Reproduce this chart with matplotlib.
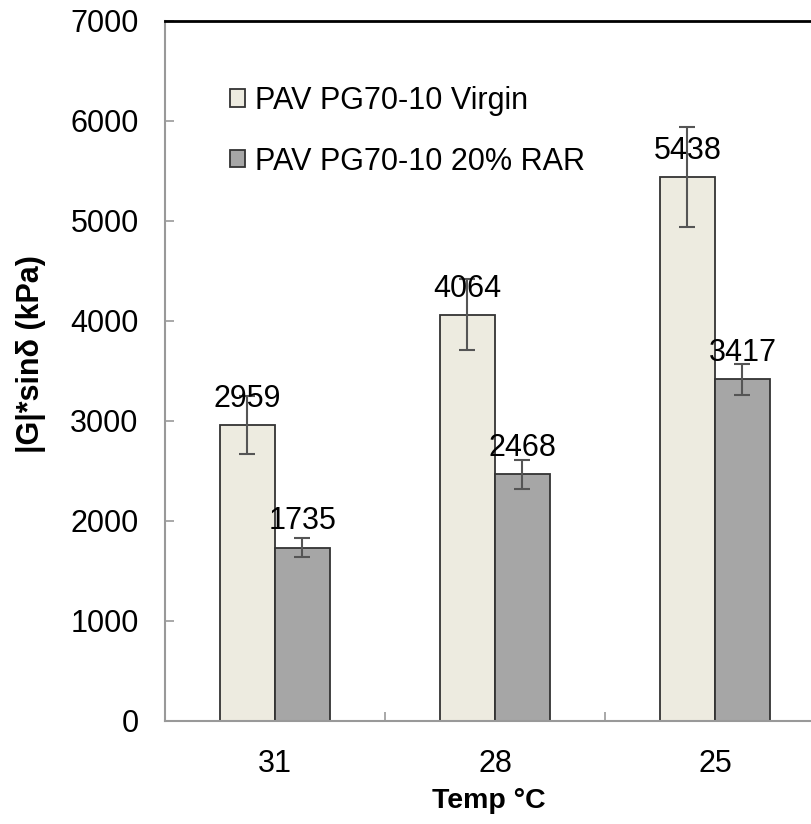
import matplotlib
matplotlib.use('Agg')
import matplotlib.pyplot as plt
import numpy as np
from matplotlib.patches import Patch

plt.rcParams['font.family'] = ['Liberation Sans', 'DejaVu Sans']

categories = ['31', '28', '25']
virgin = [2959, 4064, 5438]
rar = [1735, 2468, 3417]
virgin_err = [290, 355, 500]
rar_err = [95, 147, 155]
series_labels = ['PAV PG70-10 Virgin', 'PAV PG70-10 20% RAR']
colors = ['#EDEBE0', '#A6A6A6']

W, H = 812, 824
fig = plt.figure(figsize=(W / 100, H / 100), dpi=100)
ax = fig.add_axes([165 / W, 103 / H, 660 / W, 700 / H])

x = np.arange(len(categories))
w = 0.25
ekw = dict(ecolor='#555555', elinewidth=1.5, capsize=6, capthick=1.5)
ax.bar(x - w / 2, virgin, w, color=colors[0], edgecolor='#333333', linewidth=1.3,
       yerr=virgin_err, error_kw=ekw, zorder=2)
ax.bar(x + w / 2, rar, w, color=colors[1], edgecolor='#333333', linewidth=1.3,
       yerr=rar_err, error_kw=ekw, zorder=2)

for xs, vals in ((x - w / 2, virgin), (x + w / 2, rar)):
    for xi, v in zip(xs, vals):
        ax.annotate(str(v), xy=(xi, v), xytext=(0, 13), textcoords='offset points',
                    ha='center', va='baseline', fontsize=22, color='black', zorder=3)

ax.set_xlim(-0.5, 2.5)
ax.set_ylim(0, 7000)
ax.set_yticks(np.arange(0, 7001, 1000))
ax.set_xticks(x)
ax.set_xticklabels(categories)
ax.set_xticks([0.5, 1.5], minor=True)

ax.tick_params(axis='y', direction='in', length=6.5, width=1.2, color='#999999',
               pad=19, labelsize=22)
ax.tick_params(axis='x', which='major', length=0, pad=20, labelsize=22)
ax.tick_params(axis='x', which='minor', direction='in', length=6.5, width=1.2,
               color='#999999')

for s in ('left', 'bottom'):
    ax.spines[s].set_color('#999999')
    ax.spines[s].set_linewidth(1.5)
ax.spines['top'].set_color('black')
ax.spines['top'].set_linewidth(2)
ax.spines['right'].set_visible(False)

ax.set_ylabel('|G|*sin\u03b4 (kPa)', fontsize=22, fontweight='bold')
ax.yaxis.set_label_coords((31 - 165) / 660, (721 - 354) / 700)
ax.yaxis.label.set_va('center')
ax.set_xlabel('Temp \u00b0C', fontsize=20.5, fontweight='bold')
ax.xaxis.set_label_coords((489 - 165) / 660, (721 - 801) / 700)
ax.xaxis.label.set_va('center')

handles = [Patch(facecolor=c, edgecolor='#333333', linewidth=1.3) for c in colors]
ax.legend(handles, series_labels, loc='upper left', bbox_to_anchor=(230 / W, 1 - 86 / H),
          bbox_transform=fig.transFigure, frameon=False, fontsize=22,
          handlelength=0.5, handleheight=0.5, handletextpad=0.33,
          labelspacing=1.0, borderpad=0, borderaxespad=0)

fig.savefig('out.png', dpi=100)
